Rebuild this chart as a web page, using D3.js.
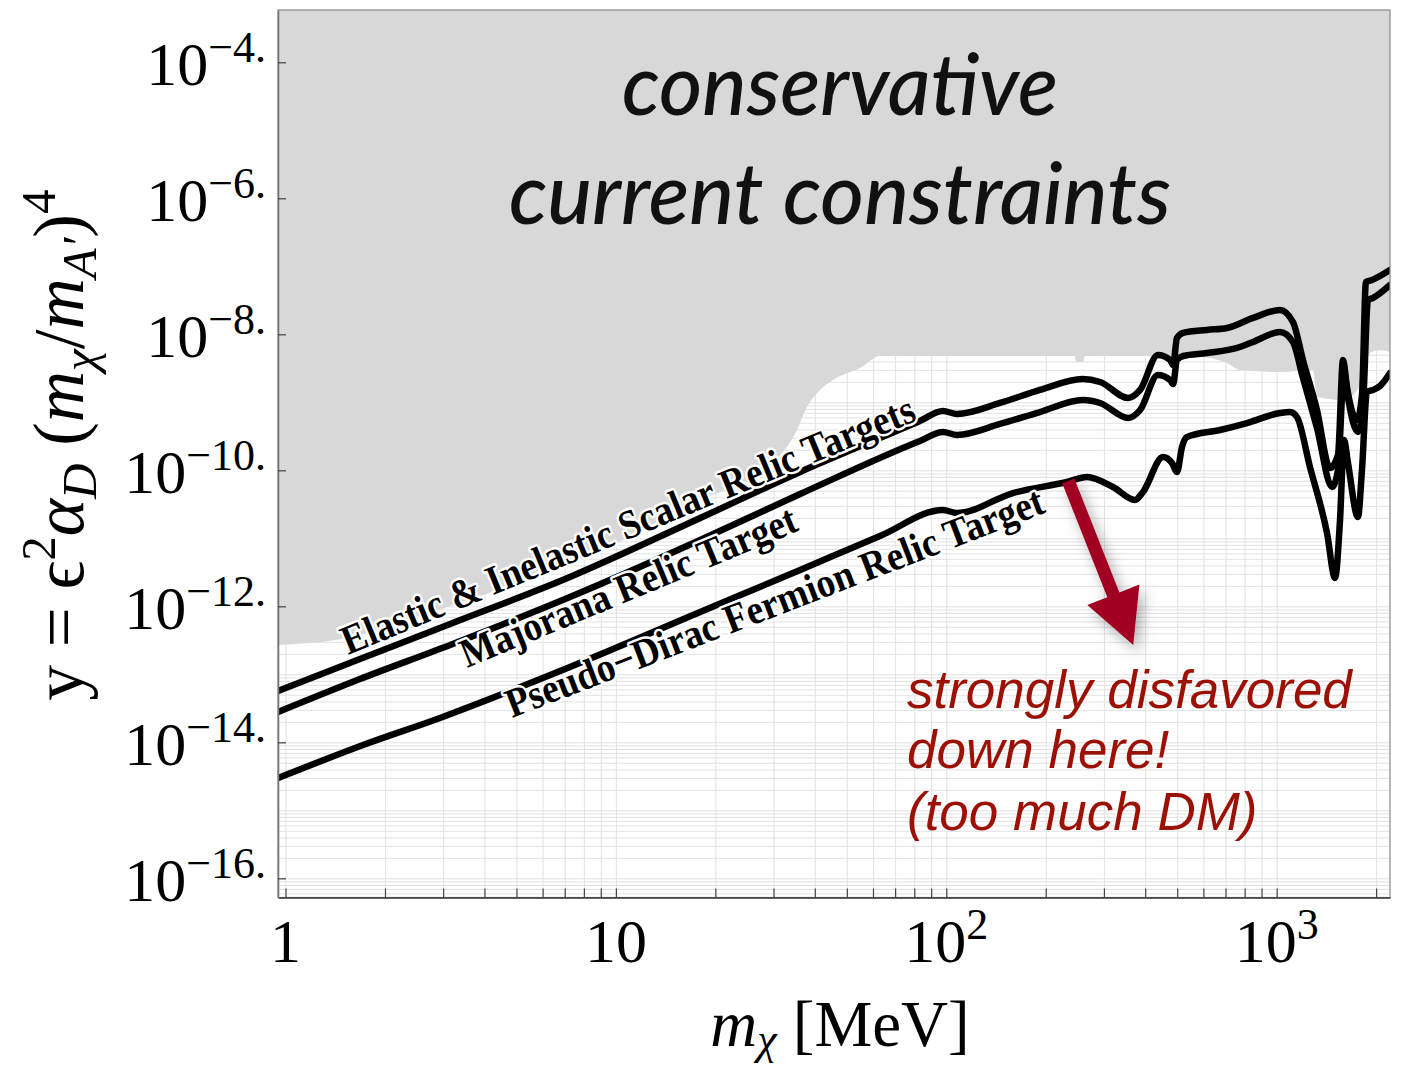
<!DOCTYPE html>
<html>
<head>
<meta charset="utf-8">
<script src="https://cdn.jsdelivr.net/npm/d3@7"></script>
<style>
  html, body { margin: 0; padding: 0; background: #ffffff; }
  svg { display: block; }
</style>
</head>
<body>
<svg id="chart" width="1406" height="1070"></svg>
<script>
// Relic-density targets y = eps^2 alpha_D (m_chi/m_A')^4 versus dark-matter mass m_chi [MeV]

// Elastic & inelastic scalar relic target
const massElastic = [0.949, 1.68, 3.15, 7.26, 18.0, 36.1, 83.2, 97.7, 107.8, 145.4,
  192, 259, 292, 355, 386, 437, 476, 486, 499, 521,
  615, 707, 848, 1023, 1120, 1201, 1324, 1450, 1533, 1588,
  1632, 1750, 1812, 1863, 1943, 2203];
const yElastic = [5.68e-14, 1.68e-13, 5.49e-13, 2.70e-12, 1.99e-11, 9.44e-11, 5.31e-10, 7.45e-10, 6.73e-10, 9.77e-10,
  1.52e-9, 2.20e-9, 1.99e-9, 1.16e-9, 1.52e-9, 4.96e-9, 4.19e-9, 3.54e-9, 8.83e-9, 1.05e-8,
  1.16e-8, 1.24e-8, 1.74e-8, 2.28e-8, 1.52e-8, 4.19e-9, 7.71e-10, 1.08e-10, 1.68e-10, 4.19e-9,
  1.68e-9, 5.49e-10, 1.28e-9, 5.88e-8, 6.29e-8, 8.82e-8];

// Majorana relic target
const massMajorana = [0.949, 1.68, 3.15, 7.26, 18.0, 36.1, 83.2, 97.7, 107.8, 145.4,
  192, 259, 292, 355, 386, 437, 476, 486, 499, 521,
  615, 774, 848, 1023, 1120, 1201, 1324, 1471, 1533, 1599,
  1644, 1762, 1825, 1889, 1956, 2203];
const yMajorana = [2.79e-14, 8.53e-14, 2.70e-13, 1.37e-12, 9.44e-12, 4.48e-11, 2.70e-10, 3.66e-10, 3.31e-10, 4.80e-10,
  7.20e-10, 1.08e-9, 9.77e-10, 5.88e-10, 7.71e-10, 2.52e-9, 2.13e-9, 1.86e-9, 4.19e-9, 4.80e-9,
  5.31e-9, 6.50e-9, 7.71e-9, 1.08e-8, 7.71e-9, 2.28e-9, 4.19e-10, 5.68e-11, 1.01e-10, 2.79e-9,
  1.16e-9, 3.66e-10, 9.12e-10, 3.19e-8, 3.42e-8, 5.31e-8];

// Pseudo-Dirac fermion relic target
const massPseudoDirac = [0.949, 1.717, 2.935, 7.26, 18.0, 36.1, 63.0, 97.7, 107.8, 159.2,
  231.9, 266.6, 319.6, 372.5, 393.9, 452.9, 482.2, 499.2, 516.9, 535.2,
  673.6, 813.2, 1023, 1097, 1152, 1261, 1420, 1502, 1555, 1599,
  1644, 1762, 1812, 1876, 1956, 2055, 2203];
const yPseudoDirac = [2.98e-15, 9.12e-15, 2.28e-14, 1.28e-13, 8.24e-13, 3.42e-12, 1.08e-11, 2.61e-11, 2.35e-11, 4.63e-11,
  6.73e-11, 7.97e-11, 5.68e-11, 3.66e-11, 4.80e-11, 1.57e-10, 1.28e-10, 9.44e-11, 2.20e-10, 3.09e-10,
  3.92e-10, 4.96e-10, 6.96e-10, 7.20e-10, 6.08e-10, 1.12e-10, 1.20e-11, 2.61e-12, 1.86e-11, 2.79e-10,
  1.28e-10, 2.06e-11, 1.01e-10, 1.42e-9, 1.52e-9, 1.74e-9, 2.70e-9];

// Lower edge of the region excluded by current constraints
const massConstraint = [0.949, 1.272, 1.536, 2.221, 3.799, 6.773, 11.83, 18.87, 22.62, 29.89,
  35.33, 37.88, 41.48, 45.40, 54.8, 63.0, 245.1, 246.9, 259.3, 262.9,
  413.6, 586.1, 707.3, 774.4, 1023, 1288, 1324, 1588, 1726, 1787,
  1916, 2055, 2203];
const yConstraint = [2.70e-13, 2.98e-13, 3.42e-13, 5.88e-13, 1.37e-12, 3.78e-12, 1.24e-11, 4.05e-11, 5.68e-11, 1.28e-10,
  3.92e-10, 8.53e-10, 1.52e-9, 2.13e-9, 3.19e-9, 4.80e-9, 4.80e-9, 3.92e-9, 3.92e-9, 4.80e-9,
  4.80e-9, 4.64e-9, 3.78e-9, 2.98e-9, 2.79e-9, 2.98e-9, 1.20e-9, 1.08e-9, 1.37e-9, 1.80e-9,
  5.31e-9, 5.87e-9, 5.49e-9];

// Axis ticks
const xTickValues = [1, 10, 100, 1000];
const xTickBase = ["1", "10", "10", "10"];
const xTickSup = ["", "", "2", "3"];
const yTickExponents = [-4, -6, -8, -10, -12, -14, -16];

// Labels written along the curves: start and end point (mass, y) of each baseline
const curveLabelText = ["Elastic & Inelastic Scalar Relic Targets", "Majorana Relic Target", "Pseudo\u2212Dirac Fermion Relic Target"];
const curveLabelStart = [[1.546, 1.92e-13], [3.543, 1.24e-13], [4.85, 2.28e-14]];
const curveLabelEnd = [[82.1, 5.49e-10], [36.08, 1.32e-11], [201.7, 2.44e-11]];

// Arrow pointing into the over-abundant region
const arrowFrom = [234, 7.0e-11];
const arrowTo = [368, 2.7e-13];

const svg = d3.select("#chart");
const plot = { left: 278, right: 1390, top: 10, bottom: 897.5 };

const x = d3.scaleLog().domain([0.949, 2203]).range([plot.left, plot.right]);
const y = d3.scaleLog().domain([Math.pow(10, -16.282), Math.pow(10, -3.231)]).range([plot.bottom, plot.top]);

const defs = svg.append("defs");
defs.append("clipPath").attr("id", "plotClip")
  .append("rect")
  .attr("x", plot.left).attr("y", plot.top)
  .attr("width", plot.right - plot.left).attr("height", plot.bottom - plot.top);
const shadow = defs.append("filter").attr("id", "arrowShadow")
  .attr("x", "-50%").attr("y", "-50%").attr("width", "200%").attr("height", "200%");
shadow.append("feDropShadow")
  .attr("dx", 5).attr("dy", 7).attr("stdDeviation", 7)
  .attr("flood-color", "#000").attr("flood-opacity", 0.3);

// Grid values on every 1..9 multiple of each decade
const xGrid = [];
for (let d = 0; d <= 3; d++) for (let k = 1; k <= 9; k++) {
  const v = k * Math.pow(10, d);
  if (v <= 2203) xGrid.push(v);
}
const yGrid = [];
for (let e = -17; e <= -4; e++) for (let k = 1; k <= 9; k++) {
  const v = k * Math.pow(10, e);
  if (v >= y.domain()[0] && v <= y.domain()[1]) yGrid.push(v);
}

const body = svg.append("g").attr("clip-path", "url(#plotClip)");

// light grid
body.append("g")
  .attr("transform", `translate(0,${plot.bottom})`)
  .call(d3.axisBottom(x).tickValues(xGrid).tickSize(-(plot.bottom - plot.top)).tickFormat(""))
  .call(g => g.select(".domain").remove())
  .call(g => g.selectAll("line").attr("stroke", "#e2e2e2").attr("stroke-width", 1));
body.append("g")
  .attr("transform", `translate(${plot.left},0)`)
  .call(d3.axisLeft(y).tickValues(yGrid).tickSize(-(plot.right - plot.left)).tickFormat(""))
  .call(g => g.select(".domain").remove())
  .call(g => g.selectAll("line").attr("stroke", "#e2e2e2").attr("stroke-width", 1));

// excluded region
const constraintData = massConstraint.map((m, i) => [m, yConstraint[i]]);
body.append("path")
  .datum(constraintData)
  .attr("fill", "#d8d8d8")
  .attr("d", d3.area()
    .x(d => x(d[0]))
    .y0(plot.top - 5)
    .y1(d => y(d[1]))
    .curve(d3.curveMonotoneX));

// relic target curves
const lineGen = d3.line().x(d => x(d[0])).y(d => y(d[1])).curve(d3.curveMonotoneX);
const curves = [
  massElastic.map((m, i) => [m, yElastic[i]]),
  massMajorana.map((m, i) => [m, yMajorana[i]]),
  massPseudoDirac.map((m, i) => [m, yPseudoDirac[i]])
];
body.selectAll("path.relic")
  .data(curves)
  .join("path")
  .attr("class", "relic")
  .attr("fill", "none")
  .attr("stroke", "#000")
  .attr("stroke-width", 6.5)
  .attr("stroke-linejoin", "round")
  .attr("stroke-linecap", "round")
  .attr("d", lineGen);

// labels along the curves
curveLabelText.forEach((t, i) => {
  const x0 = x(curveLabelStart[i][0]), y0 = y(curveLabelStart[i][1]);
  const x1 = x(curveLabelEnd[i][0]), y1 = y(curveLabelEnd[i][1]);
  const ang = Math.atan2(y1 - y0, x1 - x0) * 180 / Math.PI;
  const len = Math.hypot(x1 - x0, y1 - y0);
  svg.append("text")
    .attr("transform", `translate(${x0},${y0}) rotate(${ang})`)
    .attr("textLength", len)
    .attr("lengthAdjust", "spacingAndGlyphs")
    .attr("font-family", "'Liberation Serif', 'Times New Roman', serif")
    .attr("font-weight", "bold")
    .attr("font-size", 41)
    .attr("fill", "#000")
    .attr("stroke", "#fff")
    .attr("stroke-width", 5)
    .attr("stroke-linejoin", "round")
    .attr("paint-order", "stroke")
    .text(t);
});

// frame
svg.append("rect")
  .attr("x", plot.left).attr("y", plot.top)
  .attr("width", plot.right - plot.left).attr("height", plot.bottom - plot.top)
  .attr("fill", "none").attr("stroke", "#8a8a8a").attr("stroke-width", 1.2);

// bottom axis: inward ticks on each multiple
svg.append("g")
  .attr("transform", `translate(0,${plot.bottom})`)
  .call(d3.axisBottom(x).tickValues(xGrid).tickSize(-9).tickSizeOuter(0).tickFormat(""))
  .call(g => g.select(".domain").attr("stroke", "#333").attr("stroke-width", 1.6))
  .call(g => g.selectAll(".tick line").attr("stroke", "#444").attr("stroke-width", 1.2));

// left axis: inward ticks at labelled decades
svg.append("g")
  .attr("transform", `translate(${plot.left},0)`)
  .call(d3.axisLeft(y).tickValues(yTickExponents.map(e => Math.pow(10, e))).tickSize(-8).tickSizeOuter(0).tickFormat(""))
  .call(g => g.select(".domain").attr("stroke", "#777").attr("stroke-width", 1.6))
  .call(g => g.selectAll(".tick line").attr("stroke", "#444").attr("stroke-width", 1.2));

const serif = "'Liberation Serif', 'Times New Roman', 'DejaVu Serif', serif";

// y tick labels 10^-n.
yTickExponents.forEach(e => {
  const ty = y(Math.pow(10, e));
  const t = svg.append("text")
    .attr("x", 266).attr("y", ty + 23)
    .attr("text-anchor", "end")
    .attr("font-family", serif)
    .attr("fill", "#000");
  t.append("tspan").attr("font-size", 62).text("10");
  t.append("tspan").attr("font-size", 44).attr("dy", -23).text("\u2212" + (-e) + ".");
});

// x tick labels
xTickValues.forEach((v, i) => {
  const t = svg.append("text")
    .attr("x", x(v)).attr("y", 962)
    .attr("text-anchor", "middle")
    .attr("font-family", serif)
    .attr("fill", "#000");
  t.append("tspan").attr("font-size", 62).text(xTickBase[i]);
  if (xTickSup[i]) t.append("tspan").attr("font-size", 44).attr("dy", -23).text(xTickSup[i]);
});

// x axis title
const xt = svg.append("text")
  .attr("x", 840).attr("y", 1046)
  .attr("text-anchor", "middle")
  .attr("font-family", serif)
  .attr("font-size", 65)
  .attr("fill", "#000");
xt.append("tspan").attr("font-style", "italic").text("m");
xt.append("tspan").attr("font-style", "italic").attr("font-size", 44).attr("dy", 8).text("\u03c7");
xt.append("tspan").attr("dy", -8).text(" [MeV]");

// y axis title
const yt = svg.append("text")
  .attr("transform", "translate(83,445) rotate(-90)")
  .attr("text-anchor", "middle")
  .attr("font-family", serif)
  .attr("font-size", 71)
  .attr("fill", "#000");
yt.append("tspan").text("y = \u03f5");
yt.append("tspan").attr("font-size", 49).attr("dy", -28).text("2");
yt.append("tspan").attr("font-style", "italic").attr("dy", 28).text("\u03b1");
yt.append("tspan").attr("font-style", "italic").attr("font-size", 49).attr("dy", 13).text("D");
yt.append("tspan").attr("dy", -13).text(" (");
yt.append("tspan").attr("font-style", "italic").text("m");
yt.append("tspan").attr("font-style", "italic").attr("font-size", 49).attr("dy", 13).text("\u03c7");
yt.append("tspan").attr("dy", -13).text("/");
yt.append("tspan").attr("font-style", "italic").text("m");
yt.append("tspan").attr("font-style", "italic").attr("font-size", 49).attr("dy", 13).text("A\u2032");
yt.append("tspan").attr("dy", -13).text(")");
yt.append("tspan").attr("font-size", 49).attr("dy", -28).text("4");

// headline over the excluded region
const headline = ["conservative", "current constraints"];
const headlineY = [115, 224];
const headlineWidth = [436, 662];
headline.forEach((s, i) => {
  svg.append("text")
    .attr("x", 840).attr("y", headlineY[i])
    .attr("text-anchor", "middle")
    .attr("font-family", "Lato, 'Open Sans', sans-serif")
    .attr("font-style", "italic")
    .attr("font-weight", 500)
    .attr("font-size", 86)
    .attr("textLength", headlineWidth[i])
    .attr("lengthAdjust", "spacingAndGlyphs")
    .attr("fill", "#111")
    .text(s);
});

// red arrow
const ax0 = x(arrowFrom[0]), ay0 = y(arrowFrom[1]);
const ax1 = x(arrowTo[0]), ay1 = y(arrowTo[1]);
const L = Math.hypot(ax1 - ax0, ay1 - ay0);
const ux = (ax1 - ax0) / L, uy = (ay1 - ay0) / L;
const px = -uy, py = ux;
const headLen = 54, headHalf = 28, shaftHalf = 6.5;
const bx = ax1 - ux * headLen, by = ay1 - uy * headLen;
const arrowPts = [
  [ax0 + px * shaftHalf, ay0 + py * shaftHalf],
  [bx + px * shaftHalf, by + py * shaftHalf],
  [bx + px * headHalf, by + py * headHalf],
  [ax1, ay1],
  [bx - px * headHalf, by - py * headHalf],
  [bx - px * shaftHalf, by - py * shaftHalf],
  [ax0 - px * shaftHalf, ay0 - py * shaftHalf]
];
svg.append("polygon")
  .attr("points", arrowPts.map(p => p.join(",")).join(" "))
  .attr("fill", "#a10022")
  .attr("filter", "url(#arrowShadow)");

// red note
const note = ["strongly disfavored", "down here!", "(too much DM)"];
const noteY = [708, 768, 830];
note.forEach((s, i) => {
  svg.append("text")
    .attr("x", 907).attr("y", noteY[i])
    .attr("font-family", "'Liberation Sans', Arial, sans-serif")
    .attr("font-style", "italic")
    .attr("font-size", 53)
    .attr("fill", "#9c1106")
    .text(s);
});
</script>
</body>
</html>
